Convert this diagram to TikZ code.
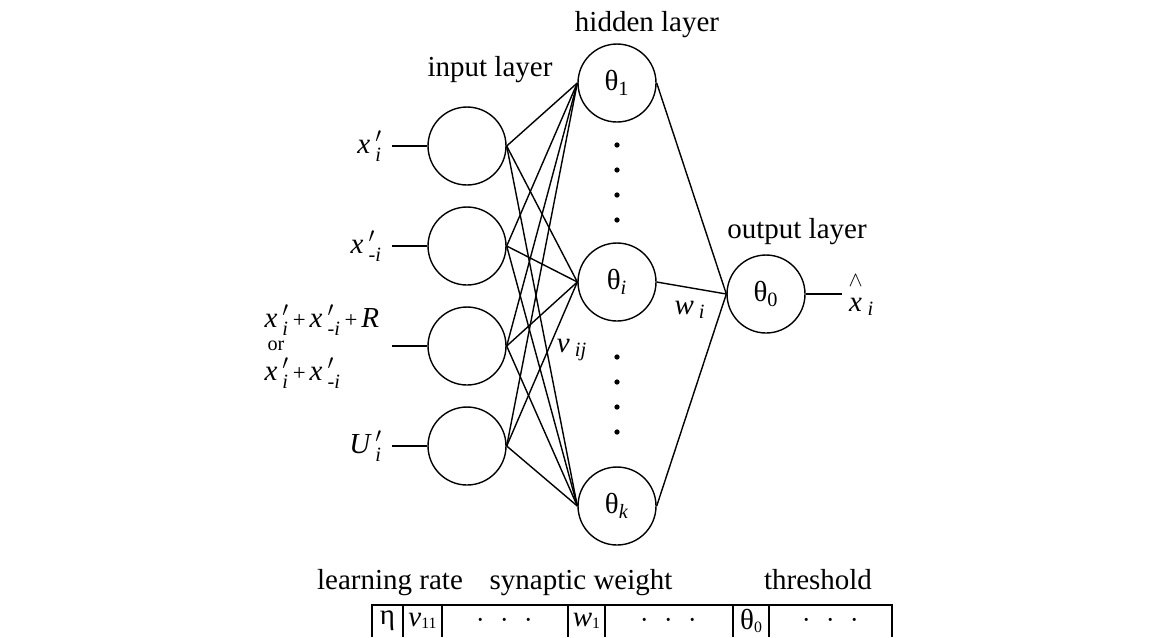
\documentclass[tikz,border=0pt]{standalone}
\usepackage{amsmath}
\usepackage{fontspec}
\setmainfont{Liberation Serif}
\usetikzlibrary{positioning}

\newcommand{\xin}{\textit{x}\,{}^{\prime}_{\textit{i}}}
\newcommand{\xmi}{\textit{x}\,{}^{\prime}_{\text{-}\textit{i}}}
\newcommand{\pls}{\text{\fontsize{13}{13}\selectfont\,+\,}}
\newcommand{\tdots}{{$\cdot$}\hspace{9pt}{$\cdot$}\hspace{9pt}{$\cdot$}}
\newcommand{\tsub}[1]{\raisebox{-1.5pt}{\fontsize{9}{9}\selectfont #1}}

\begin{document}
\begin{tikzpicture}[x=0.02cm, y=-0.02cm, line width=0.8pt,
  font=\fontsize{16.5}{19}\selectfont,
  neuron/.style={draw, circle, minimum size=1.56cm, inner sep=0pt}]
  \useasboundingbox (0,0) rectangle (1151,637);

  % layer titles
  \node (inlabel) at (490,70) {input layer};
  \node (hidlabel) at (647,25) {hidden layer};
  \node (outlabel) at (797,232) {output layer};

  % input layer
  \node[neuron] (in1) at (467,146) {};
  \node[neuron] (in2) at (467,246) {};
  \node[neuron] (in3) at (467,346) {};
  \node[neuron] (in4) at (467,446) {};
  \coordinate (src1) at (392,146);
  \coordinate (src2) at (392,246);
  \coordinate (src3) at (392,346);
  \coordinate (src4) at (392,446);
  \foreach \n in {1,...,4}
    \draw (src\n) -- (in\n);

  \node[left=2pt of src1] (xl1) {$\xin$};
  \node[left=2pt of src2] (xl2) {$\xmi$};
  \node[anchor=west] (sum1) at (258,320) {$\xin\pls\xmi\pls\textit{R}$};
  \node[anchor=west, font=\fontsize{11.5}{13}\selectfont] (orword) at (261,346) {or};
  \node[anchor=west] (sum2) at (258,373) {$\xin\pls\xmi$};
  \node[left=2pt of src4] (xl4) {$\textit{U}\,{}^{\prime}_{\textit{i}}$};

  % hidden layer
  \node[neuron] (h1) at (617,83) {θ\textsubscript{1}};
  \node[neuron] (hi) at (617,282) {θ\textsubscript{\textit{i}}};
  \node[neuron] (hk) at (617,506) {θ\textsubscript{\textit{k}}};
  \foreach \y in {145,170,195,220,357,382,407,432}
    \fill (617,\y) circle (1.5pt);

  % output layer
  \node[neuron] (out) at (766,294) {θ\textsubscript{0}};
  \coordinate (yend) at (842,294);
  \draw (out) -- (yend);
  \node[right] (xhat) at (yend) {$\overset{\raisebox{3pt}{$\scriptstyle\wedge$}}{\textit{x}}\,{}_{\textit{i}}$};

  % connections
  \foreach \a in {in1,in2,in3,in4}
    \foreach \b in {h1,hi,hk}
      \draw (\a.east) -- (\b.west);
  \foreach \b in {h1,hi,hk}
    \draw (\b.east) -- (out.west);
  \node (vlab) at (572,350) {$\textit{v}\,{}_{\textit{ij}}$};
  \node (wlab) at (690,310) {$\textit{w}\,{}_{\textit{i}}$};

  % parameter vector
  \node[anchor=base] (lrlab) at (390,589) {learning rate};
  \node[anchor=base] (swlab) at (581,589) {synaptic weight};
  \node[anchor=base] (thlab) at (818,589) {threshold};
  \draw (372,637) |- (892,605) -- (892,637);
  \foreach \x in {403,442,568,605,733,769}
    \draw (\x,605) -- (\x,637);
  \node (eta) at (387.5,621) {η};
  \node (v11) at (422.5,621) {\textit{v}\tsub{11}};
  \node (dots1) at (505,621) {\tdots};
  \node (w1) at (586.5,621) {\textit{w}\tsub{1}};
  \node (dots2) at (669,621) {\tdots};
  \node (th0) at (751,621) {θ\tsub{0}};
  \node (dots3) at (830.5,621) {\tdots};
\end{tikzpicture}
\end{document}
